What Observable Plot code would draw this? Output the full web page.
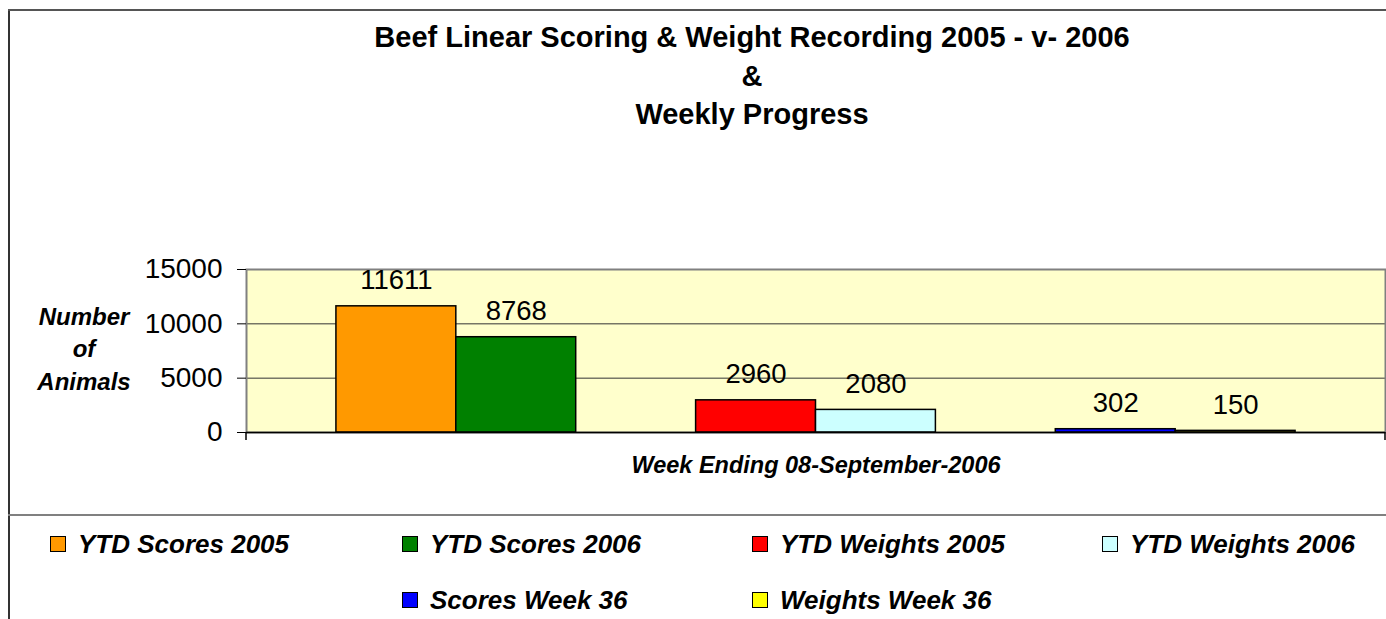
<!DOCTYPE html>
<html>
<head>
<meta charset="utf-8">
<script src="https://cdn.jsdelivr.net/npm/d3@7"></script>
<script src="https://cdn.jsdelivr.net/npm/@observablehq/plot@0.6"></script>
<style>
  body { margin: 0; background: #fff; }
  #wrap { position: relative; width: 1386px; height: 619px; overflow: hidden;
          font-family: "Liberation Sans", Arial, sans-serif; color: #000; background: #fff; }
  #chart { position: absolute; left: 0; top: 0; }
  .frameline { position: absolute; }
  .t { position: absolute; white-space: nowrap; transform: translateX(-50%); text-align: center; }
  .title { font-weight: bold; font-size: 29px; line-height: 38px; }
  .ylab { font-weight: bold; font-style: italic; font-size: 24px; line-height: 32px; }
  .xlab { font-weight: bold; font-style: italic; font-size: 23.5px; line-height: 30px; }
  .leg { position: absolute; white-space: nowrap; font-weight: bold; font-style: italic;
         font-size: 26px; line-height: 30px; }
  .sw { position: absolute; width: 14px; height: 14px; border: 1.5px solid #000; }
</style>
</head>
<body>
<div id="wrap"></div>
<script>
// ---------- data ----------
const titleLines = ["Beef Linear Scoring & Weight Recording 2005 - v- 2006", "&", "Weekly Progress"];
const series = ["YTD Scores 2005", "YTD Scores 2006", "YTD Weights 2005", "YTD Weights 2006", "Scores Week 36", "Weights Week 36"];
const values = [11611, 8768, 2960, 2080, 302, 150];
const colors = ["#FF9900", "#008000", "#FF0000", "#CCFFFF", "#0000FF", "#FFFF00"];
const groupIndex = [0, 0, 1, 1, 2, 2];
const yTicks = [0, 5000, 10000, 15000];
const yLabelLines = ["Number", "of", "Animals"];
const xTitle = "Week Ending 08-September-2006";

// ---------- build ----------
const data = series.map((s, i) => ({series: s, value: values[i], group: groupIndex[i]}));
const slots = [];
series.forEach((s, i) => {
  if (i > 0 && groupIndex[i] !== groupIndex[i - 1]) slots.push("gap-" + i);
  slots.push(s);
});

const wrap = document.getElementById("wrap");

const endTicks = (index, scales, vals, dim) => {
  const g = d3.create("svg:g");
  const yb = dim.height - dim.marginBottom;
  [dim.marginLeft, dim.width - dim.marginRight].forEach(x => {
    g.append("line").attr("x1", x).attr("x2", x).attr("y1", yb).attr("y2", yb + 8)
      .attr("stroke", "#000").attr("stroke-width", 1.5);
  });
  return g.node();
};

const chart = Plot.plot({
  width: 1386,
  height: 480,
  marginLeft: 246,
  marginRight: 1,
  marginTop: 269,
  marginBottom: 48,
  style: {fontFamily: '"Liberation Sans", Arial, sans-serif', fontSize: "28px", color: "#000", background: "transparent", overflow: "visible"},
  x: {type: "band", domain: slots, paddingInner: 0, paddingOuter: 0.75, round: false, axis: null},
  y: {domain: [0, d3.max(yTicks)], axis: null},
  color: {domain: series, range: colors},
  marks: [
    Plot.frame({fill: "#FFFFCC", stroke: null}),
    Plot.ruleY(yTicks.filter(t => t > 0 && t < d3.max(yTicks)), {stroke: "#333", strokeWidth: 1}),
    Plot.frame({stroke: "#808080", strokeWidth: 2}),
    Plot.barY(data, {x: "series", y: "value", fill: "series", stroke: "#000", strokeWidth: 1.5}),
    Plot.ruleY([0], {stroke: "#000", strokeWidth: 1.5}),
    Plot.text(data, {x: "series", y: "value", text: d => String(d.value), dy: -17, lineAnchor: "bottom", fontSize: 27.5, fill: "#000"}),
    Plot.axisY({ticks: yTicks, tickSize: 9, tickPadding: 15, tickFormat: d => String(d), fontSize: 28, label: null, stroke: "#000"}),
    endTicks
  ]
});
chart.id = "chart";
wrap.appendChild(chart);

// frame lines of the chart area
function line(css) { const d = document.createElement("div"); d.className = "frameline"; Object.assign(d.style, css); wrap.appendChild(d); }
line({left: "8px", top: "9px", width: "2px", height: "620px", background: "#333"});
line({left: "8px", top: "9px", width: "1400px", height: "2px", background: "#555"});
line({left: "8px", top: "514px", width: "1400px", height: "2px", background: "#808080"});

// title
const titleCenters = [37, 76, 114];
titleLines.forEach((t, i) => {
  const d = document.createElement("div");
  d.className = "t title"; d.textContent = t;
  d.style.left = "752px"; d.style.top = (titleCenters[i] - 19) + "px";
  wrap.appendChild(d);
});

// y label
const yLabCenters = [317, 349, 382];
yLabelLines.forEach((t, i) => {
  const d = document.createElement("div");
  d.className = "t ylab"; d.textContent = t;
  d.style.left = "84px"; d.style.top = (yLabCenters[i] - 16) + "px";
  wrap.appendChild(d);
});

// x title
{
  const d = document.createElement("div");
  d.className = "t xlab"; d.textContent = xTitle;
  d.style.left = "816px"; d.style.top = (465 - 15) + "px";
  wrap.appendChild(d);
}

// legend
const legCols = [50, 402, 752, 1102];
const legRows = [544, 600];
const legPos = [[0,0],[0,1],[0,2],[0,3],[1,1],[1,2]];
series.forEach((s, i) => {
  const [r, c] = legPos[i];
  const x = legCols[c], cy = legRows[r];
  const sw = document.createElement("div");
  sw.className = "sw"; sw.style.background = colors[i];
  sw.style.left = x + "px"; sw.style.top = (cy - 8) + "px";
  wrap.appendChild(sw);
  const tx = document.createElement("div");
  tx.className = "leg"; tx.textContent = s;
  tx.style.left = (x + 28) + "px"; tx.style.top = (cy - 15) + "px";
  wrap.appendChild(tx);
});
</script>
</body>
</html>
